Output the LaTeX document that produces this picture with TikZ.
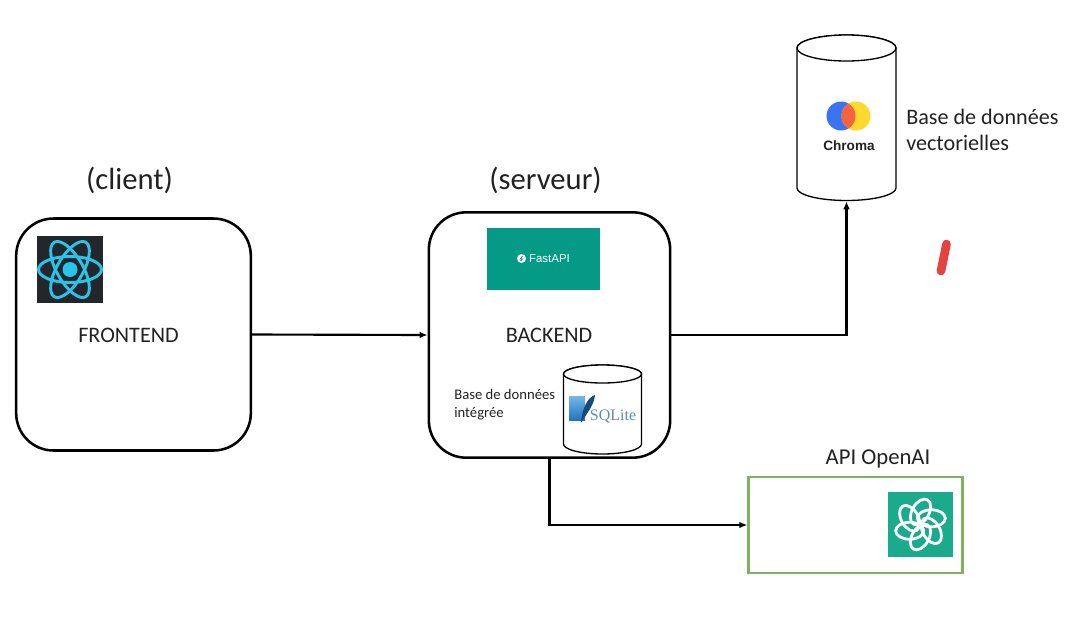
\documentclass[tikz,border=0pt]{standalone}
\usepackage{fontspec}
\setmainfont{Carlito}
\newfontfamily\logofont{Liberation Sans}
\newfontfamily\sqlfont{Liberation Serif}
\usetikzlibrary{arrows.meta}
\definecolor{reactdark}{HTML}{23272B}
\definecolor{reactcyan}{HTML}{28C4EA}
\definecolor{fastteal}{HTML}{059A86}
\definecolor{gptteal}{HTML}{19AB8C}
\definecolor{gptgreen}{HTML}{7FB25E}
\definecolor{sqllight}{HTML}{74B8EA}
\definecolor{sqlblue}{HTML}{2473BC}
\definecolor{sqlnavy}{HTML}{164C75}
\definecolor{sqlgrey}{HTML}{5D8FB0}
\definecolor{chromablue}{HTML}{3B74F2}
\definecolor{chromared}{HTML}{F9623F}
\definecolor{chromayellow}{HTML}{FFD92E}
\definecolor{labeltext}{HTML}{222222}
\definecolor{penred}{HTML}{E5433F}
\begin{document}
\begin{tikzpicture}[x=0.75pt,y=-0.75pt]
        \tikzstyle{block}=[draw=black,line width=1.9pt,rounded corners=28pt,inner sep=0pt]
        \tikzstyle{store}=[inner sep=0pt]
        \tikzstyle{storeline}=[draw=black,line width=1pt,fill=white]
        \tikzstyle{edge}=[draw,-{Latex[length=6pt,width=5pt]},line width=1.6pt]
        \tikzstyle{label}=[text=labeltext,inner sep=0pt,align=left]
        \useasboundingbox (0,0) rectangle (1080,643);
        % blocks
        \node [block,minimum width=176pt,minimum height=174pt] (frontend) at (133.5,334.5) {};
        \node [block,minimum width=181pt,minimum height=184pt] (backend) at (549.5,335) {};
        \node [draw=gptgreen,line width=2.2pt,minimum width=160pt,minimum height=72pt,inner sep=0pt] (openai) at (855.5,525) {};
        \node [store,minimum width=74pt,minimum height=124.5pt] (chroma) at (846.5,118) {};
        \node [store,minimum width=59pt,minimum height=67pt] (sqlite) at (602.5,409) {};
        % cylinders
        \path [storeline] (797,48) -- (797,188) arc (180:0:49.5 and 12.5) -- (896,48) arc (0:-180:49.5 and 13) -- cycle;
        \path [storeline] (846.5,48) ellipse (49.5 and 13);
        \path [storeline] (563.5,374) -- (563.5,444) arc (180:0:39 and 10) -- (641.5,374) arc (0:-180:39 and 9) -- cycle;
        \path [storeline] (602.5,374) ellipse (39 and 9);
        % labels
        \node [label,font=\fontsize{23}{27}\selectfont] (clientlbl) at (129.5,180) {(client)};
        \node [label,font=\fontsize{23}{27}\selectfont] (serveurlbl) at (545.5,180) {(serveur)};
        \node [label,font=\fontsize{16.6}{19}\selectfont] (frontlbl) at (128.5,335) {FRONTEND};
        \node [label,font=\fontsize{16.6}{19}\selectfont] (backlbl) at (549,335) {BACKEND};
        \node [label,anchor=west,font=\fontsize{11}{13.5}\selectfont] (integlbl) at (454,404.5) {Base de données\\intégrée};
        \node [label,anchor=west,font=\fontsize{16.6}{19.5}\selectfont] (veclbl) at (906,130) {Base de données\\vectorielles};
        \node [label,font=\fontsize{17}{20}\selectfont] (apilbl) at (878,459) {API OpenAI};
        % react logo
        \node [fill=reactdark,minimum size=50pt,inner sep=0pt] (reactlogo) at (70,269.5) {};
        \foreach \a in {0,60,120}
          \draw [reactcyan,line width=2.2pt,rotate around={\a:(reactlogo)}] (reactlogo) ellipse (31.5 and 13);
        \fill [reactcyan] (reactlogo) circle (7.5);
        % fastapi logo
        \node [fill=fastteal,minimum width=85pt,minimum height=46.5pt,inner sep=0pt] (fastlogo) at (543.5,259) {};
        \node [text=white,inner sep=0pt,font=\logofont\fontsize{8.6}{10}\selectfont] (fasttxt) at (549.5,258.5) {FastAPI};
        \fill [white] (521.5,258.5) circle (4.5);
        \draw [fastteal,line width=0.7pt] (522.5,256) -- (520.5,259) -- (522.5,259) -- (520.5,261);
        % sqlite logo
        \shade [top color=sqllight,bottom color=sqlblue] (569,396) rectangle (585,420);
        \fill [sqlnavy] (595,395) .. controls (588,397) and (582,408) .. (581,423) .. controls (586,414) and (594,406) .. (595,395);
        \node [text=sqlgrey,inner sep=0pt,font=\sqlfont\fontsize{12}{15}\selectfont] (sqltxt) at (613,416) {SQLite};
        % chroma logo
        \fill [chromablue] (841,116) circle (14.5);
        \fill [chromayellow] (856,116) circle (14.5);
        \begin{scope}
          \clip (841,116) circle (14.5);
          \fill [chromared] (856,116) circle (14.5);
        \end{scope}
        \node [text=labeltext,inner sep=0pt,font=\logofont\bfseries\fontsize{10.2}{11}\selectfont] (chromatxt) at (849,146) {Chroma};
        % openai logo
        \node [fill=gptteal,minimum size=49pt,inner sep=0pt] (gptlogo) at (920.5,524.5) {};
        \foreach \a in {0,60,...,300}
          \draw [white,line width=2.1pt,rotate around={\a:(gptlogo)},shift={(920.5,512)},rotate=60] (0,0) ellipse (14 and 8.5);
        % red mark
        \draw [penred,line width=6.5pt,line cap=round] (946.5,244) -- (941,271);
        % connectors
        \path[edge] (frontend.east) -- (backend.west);
        \path[edge] (backend.east) -| (chroma.south);
        \path[edge] (backend.south) |- (openai.west);
\end{tikzpicture}
\end{document}
